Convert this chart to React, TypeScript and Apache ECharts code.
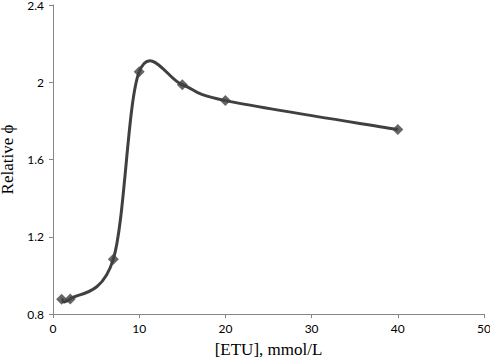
import React, { useEffect, useRef } from "react";
import * as echarts from "echarts";

const xValues = [1, 2, 7, 10, 15, 20, 40];
const yValues = [0.877, 0.878, 1.084, 2.054, 1.987, 1.905, 1.755];
const xTicks = { min: 0, max: 50, interval: 10 };
const yTicks = { min: 0.8, max: 2.4, interval: 0.4 };

const LINE_COLOR = "#404040";

export default function App() {
  const ref = useRef<HTMLDivElement>(null);
  useEffect(() => {
    const chart = echarts.init(ref.current!, null, { renderer: "svg" });
    const points = xValues.map((x, i) => [x, yValues[i]]);
    const n = points.length;
    const axisCommon = {
      axisLine: { show: true, lineStyle: { color: "#868686", width: 1 } },
      axisTick: { show: true, inside: false, length: 4, lineStyle: { color: "#868686" } },
      splitLine: { show: false },
      axisLabel: { color: "#000", fontFamily: "Lato", fontSize: 12 },
    };
    chart.setOption({
      animation: false,
      backgroundColor: "#fff",
      grid: { left: 53, right: 6, top: 5, bottom: 48, containLabel: false, outerBoundsMode: "none" },
      xAxis: {
        type: "value",
        ...xTicks,
        ...axisCommon,
        axisLabel: { ...axisCommon.axisLabel, margin: 8 },
        name: "[ETU], mmol/L",
        nameLocation: "middle",
        nameGap: 27,
        nameTextStyle: { color: "#000", fontFamily: "Liberation Serif", fontSize: 17 },
      },
      yAxis: {
        type: "value",
        ...yTicks,
        ...axisCommon,
        axisLabel: { ...axisCommon.axisLabel, margin: 9 },
        name: "Relative ϕ",
        nameLocation: "middle",
        nameGap: 30,
        nameRotate: 90,
        nameTextStyle: { color: "#000", fontFamily: "Liberation Serif", fontSize: 17 },
      },
      series: [
        {
          type: "custom",
          data: points,
          clip: false,
          z: 2,
          renderItem: (params: any, api: any) => {
            const i = params.dataIndex;
            if (i >= n - 1) return null;
            const P = (k: number) => api.coord(points[Math.max(0, Math.min(n - 1, k))]);
            const p0 = P(i - 1), p1 = P(i), p2 = P(i + 1), p3 = P(i + 2);
            const t = 1 / 6;
            return {
              type: "bezierCurve",
              shape: {
                x1: p1[0], y1: p1[1],
                cpx1: p1[0] + (p2[0] - p0[0]) * t,
                cpy1: p1[1] + (p2[1] - p0[1]) * t,
                cpx2: p2[0] - (p3[0] - p1[0]) * t,
                cpy2: p2[1] - (p3[1] - p1[1]) * t,
                x2: p2[0], y2: p2[1],
              },
              style: { stroke: LINE_COLOR, lineWidth: 3, fill: "none" },
            };
          },
        },
        {
          type: "scatter",
          data: points,
          symbol: "diamond",
          symbolSize: 11,
          z: 3,
          itemStyle: { color: LINE_COLOR },
        },
      ],
    });
    return () => chart.dispose();
  }, []);
  return <div ref={ref} style={{ width: 490, height: 362, position: "absolute", left: 0, top: 0 }} />;
}
